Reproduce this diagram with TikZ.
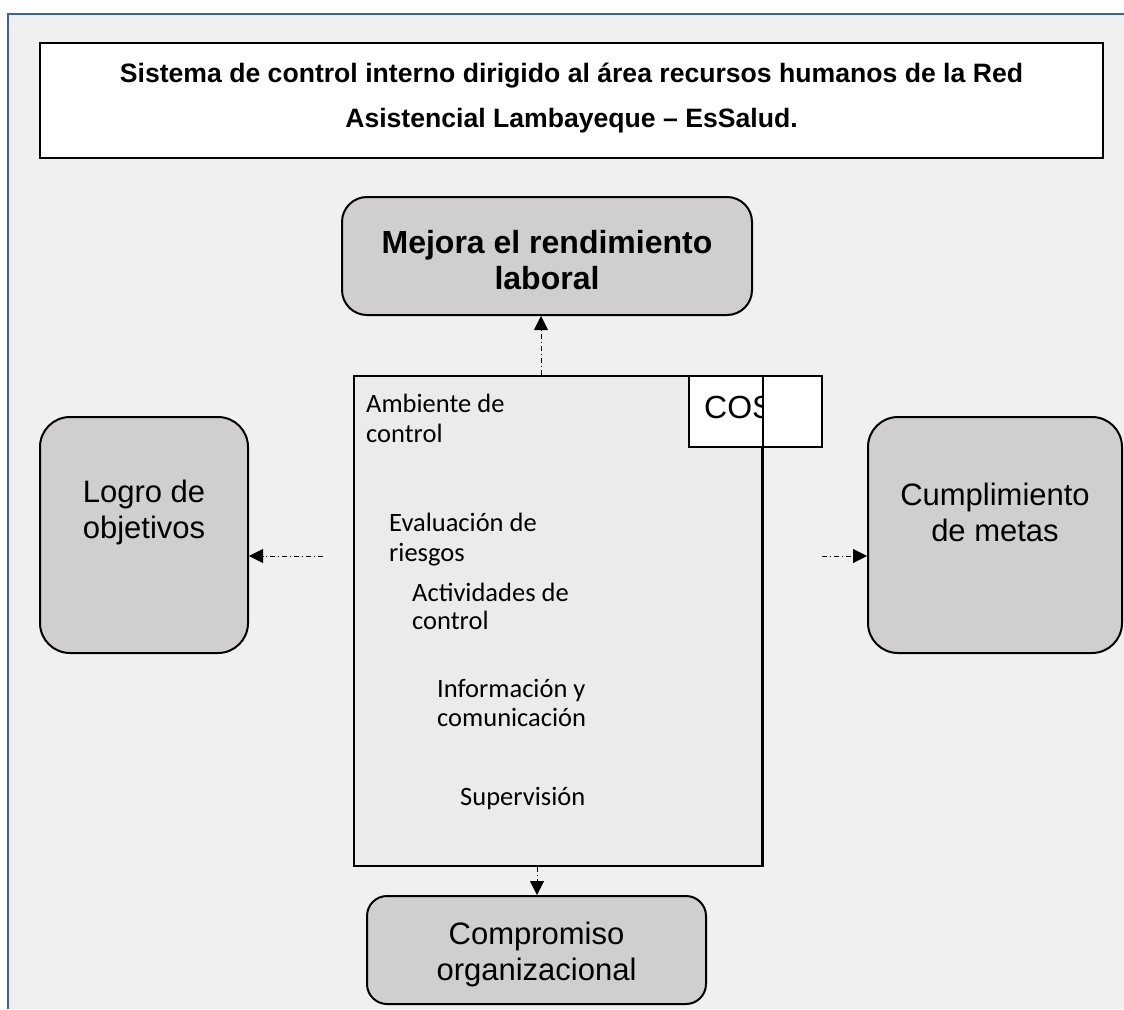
\documentclass[tikz,border=0pt]{standalone}
\usepackage{fontspec}
\setmainfont{Liberation Sans}
\newfontfamily\calfont{Carlito}
\usetikzlibrary{arrows.meta}
\definecolor{framebg}{HTML}{F0F0F0}
\definecolor{frameblue}{HTML}{3A63A8}
\definecolor{boxgray}{HTML}{D0CECE}
\definecolor{centralbg}{HTML}{EBEBEB}
\begin{document}
\begin{tikzpicture}[x=1pt,y=-1pt,
  rbox/.style={draw=black, line width=2pt, fill=boxgray, inner sep=0pt},
  btext/.style={align=center, inner sep=0pt, font=\fontsize{31}{36}\selectfont},
  conn/.style={line width=1pt, dash pattern=on 5pt off 3pt on 1pt off 3pt,
    -{Triangle[length=14pt,width=14pt]}},
  ctext/.style={anchor=base west, inner sep=0pt, font=\calfont\fontsize{26.5}{30}\selectfont},
  ttext/.style={anchor=base, inner sep=0pt, font=\bfseries\fontsize{26.6}{30}\selectfont}]
\useasboundingbox (0,0) rectangle (1124,1009);
\fill[white] (0,0) rectangle (1124,1009);
\fill[framebg] (8,14) rectangle (1124,1009);
\draw[frameblue, line width=2.5pt] (8,1009) -- (8,14) -- (1124,14);

% title
\node[draw=black, fill=white, line width=1.2pt, minimum width=1063pt, minimum height=115pt, inner sep=0pt] (title) at (571.5,100.5) {};
\node[ttext] (t1) at (571.5,82) {Sistema de control interno dirigido al área recursos humanos de la Red};
\node[ttext] (t2) at (571.5,127) {Asistencial Lambayeque – EsSalud.};

% outer boxes
\node[rbox, rounded corners=25pt, minimum width=410pt, minimum height=118pt] (mejora) at (547,256) {};
\node[btext, font=\bfseries\fontsize{32}{36}\selectfont] (mejoratxt) at (547,260) {Mejora el rendimiento\\laboral};
\node[rbox, rounded corners=30pt, minimum width=208pt, minimum height=236pt] (logro) at (144,535) {};
\node[btext] (logrotxt) at (144,512) {Logro de\\objetivos};
\node[rbox, rounded corners=30pt, minimum width=254pt, minimum height=236pt] (cumpl) at (995,535) {};
\node[btext] (cumpltxt) at (995,512) {Cumplimiento\\de metas};
\node[rbox, rounded corners=20pt, minimum width=339pt, minimum height=108pt] (compromiso) at (536.5,950) {};
\node[btext] (comptxt) at (536.5,954) {Compromiso\\organizacional};

% central box
\node[draw=black, line width=2pt, fill=centralbg, minimum width=408pt, minimum height=490pt, inner sep=0pt] (central) at (558,621) {};
\node[draw=black, fill=white, line width=1.5pt, minimum width=133pt, minimum height=71pt, inner sep=0pt] (cosbox) at (755.5,411.5) {};
\begin{scope}
  \clip (689,376) rectangle (762,447);
  \node[anchor=base west, inner sep=0pt, font=\fontsize{32}{36}\selectfont] (cos) at (704,418) {COS};
\end{scope}
\draw[line width=2pt] (central.north east) -- (central.south east);

\node[ctext] (a1) at (366,412) {Ambiente de};
\node[ctext] (a2) at (366,442) {control};
\node[ctext] (e1) at (389,531) {Evaluación de};
\node[ctext] (e2) at (389,561) {riesgos};
\node[ctext] (ac1) at (412,601) {Actividades de};
\node[ctext] (ac2) at (412,629) {control};
\node[ctext] (i1) at (437,697) {Información y};
\node[ctext] (i2) at (437,726) {comunicación};
\node[ctext] (s1) at (460,805) {Supervisión};

% connectors
\coordinate (ctop) at (541,0);
\coordinate (cbot) at (537,0);
\coordinate (lstart) at (323,556);
\coordinate (rstart) at (822,556);
\draw[conn] (central.north -| ctop) -- (mejora.south -| ctop);
\draw[conn] (lstart) -- (lstart -| logro.east);
\draw[conn] (rstart) -- (rstart -| cumpl.west);
\draw[conn] (central.south -| cbot) -- (compromiso.north -| cbot);
\end{tikzpicture}
\end{document}
